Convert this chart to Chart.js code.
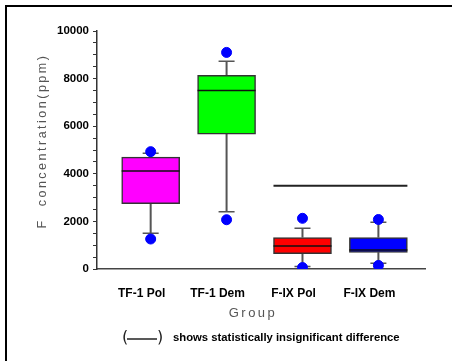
<!DOCTYPE html>
<html>
<head>
<meta charset="utf-8">
<script src="https://cdn.jsdelivr.net/npm/chart.js@4/dist/chart.umd.min.js"></script>
<style>
  html, body { margin: 0; padding: 0; background: #fff; }
</style>
</head>
<body>
<canvas id="chartBox" width="452" height="361"></canvas>
<script>
const categories = ["TF-1 Pol", "TF-1 Dem", "F-IX Pol", "F-IX Dem"];
const q1 = [2750, 5670, 640, 700];
const q3 = [4700, 8140, 1320, 1320];
const median = [4120, 7500, 970, 800];
const whiskerLow = [1500, 2410, 100, 240];
const whiskerHigh = [4860, 8730, 1710, 1960];
const outlierLow = [1260, 2070, 60, 150];
const outlierHigh = [4930, 9100, 2130, 2080];
const boxColors = ["#ff00ff", "#00ff00", "#ff0000", "#0000ff"];
const yTicks = [0, 2000, 4000, 6000, 8000, 10000];
// groups joined by the "not significant" line, and its level
const sigPair = [2, 3];
const sigLevel = 3500;
const noteText = "shows statistically insignificant difference";

const BOX_W = 58;
const CAP_W = 16;

const boxDecor = {
  id: "boxDecor",
  beforeDraw(chart) {
    const ctx = chart.ctx;
    ctx.save();
    ctx.fillStyle = "#fff";
    ctx.fillRect(0, 0, chart.width, chart.height);
    // frame (left + top only)
    ctx.strokeStyle = "#000";
    ctx.lineWidth = 2;
    ctx.beginPath();
    ctx.moveTo(6, chart.height);
    ctx.lineTo(6, 6);
    ctx.lineTo(chart.width, 6);
    ctx.stroke();
    ctx.restore();
  },
  beforeDatasetsDraw(chart) {
    const { ctx, scales: { x, y } } = chart;
    ctx.save();
    ctx.strokeStyle = "#555";
    categories.forEach((c, i) => {
      const px = x.getPixelForValue(i);
      ctx.lineWidth = 2;
      ctx.beginPath();
      ctx.moveTo(px, y.getPixelForValue(q3[i]));
      ctx.lineTo(px, y.getPixelForValue(whiskerHigh[i]));
      ctx.moveTo(px, y.getPixelForValue(q1[i]));
      ctx.lineTo(px, y.getPixelForValue(whiskerLow[i]));
      ctx.stroke();
      ctx.lineWidth = 1.5;
      ctx.beginPath();
      [whiskerHigh[i], whiskerLow[i]].forEach((v) => {
        const py = y.getPixelForValue(v);
        ctx.moveTo(px - CAP_W / 2, py);
        ctx.lineTo(px + CAP_W / 2, py);
      });
      ctx.stroke();
    });
    ctx.restore();
  },
  afterDatasetsDraw(chart) {
    const { ctx, scales: { x, y } } = chart;
    ctx.save();
    ctx.strokeStyle = "#111";
    ctx.lineWidth = 1.5;
    categories.forEach((c, i) => {
      const px = x.getPixelForValue(i);
      const py = y.getPixelForValue(median[i]);
      ctx.beginPath();
      ctx.moveTo(px - BOX_W / 2, py);
      ctx.lineTo(px + BOX_W / 2, py);
      ctx.stroke();
    });
    // significance line
    ctx.strokeStyle = "#222";
    ctx.lineWidth = 2;
    const sy = y.getPixelForValue(sigLevel);
    ctx.beginPath();
    ctx.moveTo(x.getPixelForValue(sigPair[0]) - BOX_W / 2, sy);
    ctx.lineTo(x.getPixelForValue(sigPair[1]) + BOX_W / 2, sy);
    ctx.stroke();
    ctx.restore();
  },
  afterDraw(chart) {
    const { ctx } = chart;
    ctx.save();
    ctx.fillStyle = "#555";
    ctx.textAlign = "center";
    ctx.textBaseline = "middle";
    // y axis title
    ctx.font = '12.5px "Liberation Sans"';
    ctx.letterSpacing = "2.5px";
    ctx.translate(43, 141);
    ctx.rotate(-Math.PI / 2);
    ctx.fillText("F  concentration(ppm)", 0, 0);
    ctx.setTransform(1, 0, 0, 1, 0, 0);
    // x axis title
    ctx.font = '13px "Liberation Sans"';
    ctx.letterSpacing = "2.5px";
    ctx.fillText("Group", 253, 313);
    // note
    ctx.letterSpacing = "0px";
    ctx.fillStyle = "#222";
    ctx.font = '16px "DejaVu Sans"';
    ctx.fillText("(", 125, 338);
    ctx.fillText(")", 160, 338);
    ctx.strokeStyle = "#222";
    ctx.lineWidth = 1.5;
    ctx.beginPath();
    ctx.moveTo(127, 339);
    ctx.lineTo(157, 339);
    ctx.stroke();
    ctx.fillStyle = "#000";
    ctx.textAlign = "left";
    ctx.font = 'bold 11.3px "Liberation Sans"';
    ctx.fillText(noteText, 173, 338);
    ctx.restore();
  },
};

document.addEventListener("DOMContentLoaded", () => {
  new Chart(document.querySelector("#chartBox"), {
    type: "bar",
    data: {
      datasets: [
        {
          label: "box",
          data: categories.map((c, i) => ({ x: i, y: [q1[i], q3[i]] })),
          backgroundColor: boxColors,
          borderColor: "#333",
          borderWidth: 1.5,
          borderSkipped: false,
          barThickness: BOX_W,
          order: 2,
        },
        {
          type: "scatter",
          label: "outliers",
          data: categories.flatMap((c, i) => [
            { x: i, y: outlierLow[i] },
            { x: i, y: outlierHigh[i] },
          ]),
          backgroundColor: "#0000ff",
          borderColor: "#0000ff",
          pointRadius: 5,
          pointHoverRadius: 5,
          order: 1,
        },
      ],
    },
    options: {
      responsive: false,
      animation: false,
      layout: { padding: { left: 0, top: 31, right: 27, bottom: 0 } },
      scales: {
        x: {
          type: "linear",
          min: -0.707,
          max: 3.614,
          offset: false,
          bounds: "data",
          grid: { display: false, offset: false },
          border: { color: "#444", width: 1.5 },
          afterBuildTicks: (s) => {
            s.ticks = categories.map((c, i) => ({ value: i }));
          },
          afterFit: (s) => {
            s.height = 92;
          },
          ticks: {
            padding: 9,
            labelOffset: -9,
            color: "#000",
            font: { family: "Liberation Sans", size: 12, weight: "bold" },
            callback: (v) => categories[v],
          },
        },
        y: {
          min: 0,
          max: 10000,
          grid: { drawOnChartArea: false, drawTicks: true, tickLength: 4, color: "#333" },
          border: { color: "#333", width: 1.5 },
          afterFit: (s) => {
            s.width = 97;
          },
          ticks: {
            stepSize: 500,
            autoSkip: false,
            padding: 4,
            color: "#000",
            font: { family: "Liberation Sans", size: 11.5, weight: "bold" },
            callback: (v) => (yTicks.includes(v) ? String(v) : ""),
          },
        },
      },
      plugins: {
        legend: { display: false },
        tooltip: { enabled: false },
      },
    },
    plugins: [boxDecor],
  });
});
</script>
</body>
</html>
